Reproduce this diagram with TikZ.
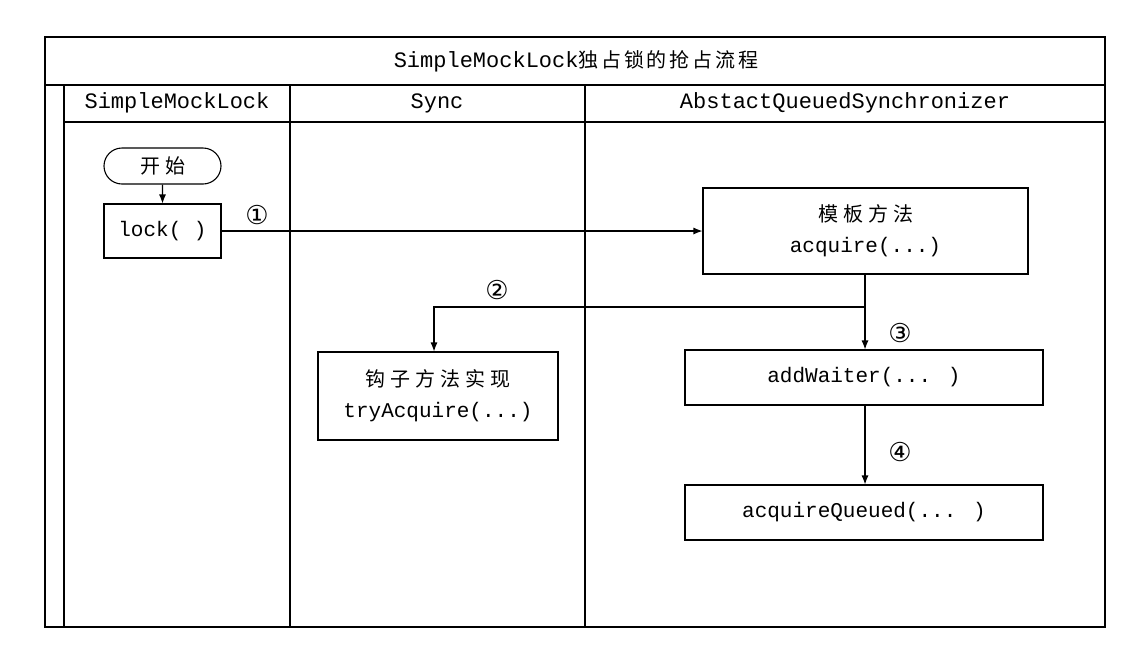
\documentclass[tikz,border=0pt]{standalone}
\usepackage{fontspec}
\usetikzlibrary{arrows.meta,shapes.misc}
\newfontfamily\monof{Liberation Mono}
\newfontfamily\cjkf[LetterSpace=25]{Noto Sans CJK SC}
\newfontfamily\cjkt[LetterSpace=14]{Noto Sans CJK SC}
\newfontfamily\numf{DejaVu Sans}
\tikzset{
  lane/.style={line width=1.3pt, draw=black},
  box/.style={draw=black, line width=1.1pt, fill=white, inner sep=0pt, align=center, font=\fontsize{21}{31}\monof},
  pill/.style={draw=black, line width=1.1pt, rounded rectangle, inner sep=0pt, font=\fontsize{20}{24}\cjkf},
  hdr/.style={font=\fontsize{22}{26}\monof},
  num/.style={font=\fontsize{26}{28}\numf},
  conn/.style={line width=1.1pt, -{Latex[length=9pt,width=7pt]}},
  plain/.style={line width=1.1pt}
}
\begin{document}
\begin{tikzpicture}[x=1pt,y=-1pt]
\useasboundingbox[fill=white] (0,0) rectangle (1146,654);
% pool frame
\draw[lane] (45,37) rectangle (1105,627);
\draw[lane] (45,85) -- (1105,85);
\draw[lane] (64,85) -- (64,627);
\draw[lane] (64,122) -- (1105,122);
\draw[lane] (290,85) -- (290,627);
\draw[lane] (585,85) -- (585,627);
% titles
\node[hdr] (title) at (576,61) {SimpleMockLock{\fontsize{20}{24}\cjkt 独占锁的抢占流程}};
\node[hdr] (h1) at (177,103) {SimpleMockLock};
\node[hdr] (h2) at (437,103) {Sync};
\node[hdr] (h3) at (845,103) {AbstactQueuedSynchronizer};
% nodes
\node[pill, minimum width=117pt, minimum height=36pt] (start) at (162.5,166) {开始};
\node[box, minimum width=117pt, minimum height=54pt] (lock) at (162.5,231) {lock( )};
\node[box, minimum width=325pt, minimum height=86pt] (acq) at (865.5,231) {{\fontsize{20}{24}\cjkf 模板方法}\\[0pt]acquire(...)};
\node[box, minimum width=240pt, minimum height=88pt] (try) at (438,396) {{\fontsize{20}{24}\cjkf 钩子方法实现}\\[0pt]tryAcquire(...)};
\node[box, minimum width=358pt, minimum height=55pt] (aw) at (864,377.5) {addWaiter(... )};
\node[box, minimum width=358pt, minimum height=55pt] (aq) at (864,512.5) {acquireQueued(... )};
% connectors
\draw[conn] (start) -- (lock);
\draw[conn] (lock.east) -- (acq.west);
\coordinate (br) at (865,307);
\draw[conn] (acq.south -| br) -- (aw.north -| br);
\draw[conn] (br) -| ([xshift=-4pt]try.north);
\draw[conn] (aw.south -| br) -- (aq.north -| br);
% labels
\node[num] (n1) at (257,215) {①};
\node[num] (n2) at (497,290) {②};
\node[num] (n3) at (900,333) {③};
\node[num] (n4) at (900,452) {④};
\end{tikzpicture}
\end{document}
